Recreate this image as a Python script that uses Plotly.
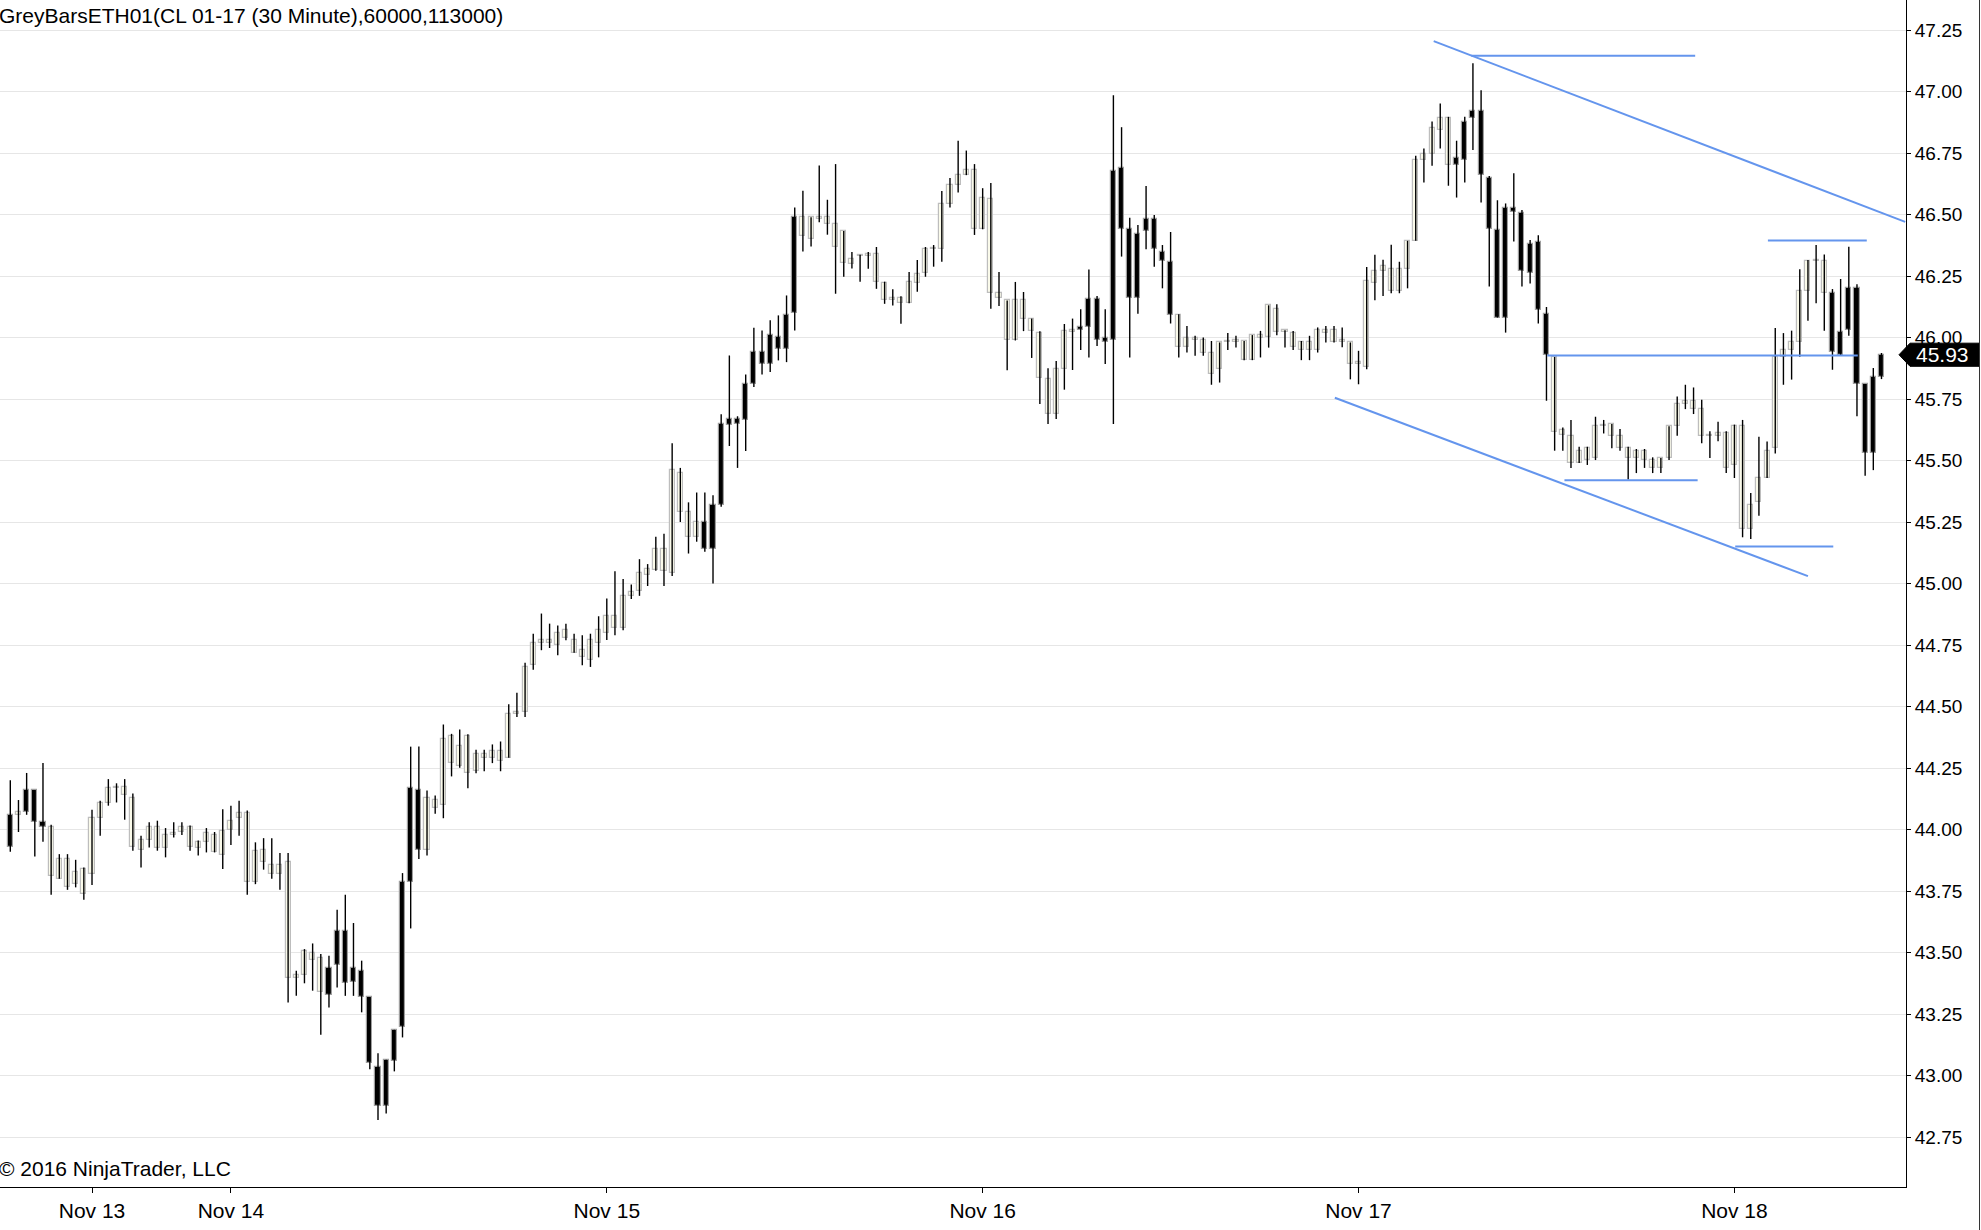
import plotly.graph_objects as go

# ---------------- data (30-minute bars, CL 01-17) ----------------
opens = [44.06, 44.06, 44.07, 44.16, 44.03, 44.01, 43.80, 43.88, 43.78, 43.84,
         43.82, 44.046, 44.108, 44.17, 44.175, 44.128, 43.917, 43.957, 44.01, 43.927,
         43.978, 43.99, 44.01, 43.927, 43.95, 43.978, 43.896, 44.0, 44.047, 44.066,
         43.785, 43.917, 43.857, 43.819, 43.867, 43.396, 43.408, 43.498, 43.476, 43.327,
         43.449, 43.586, 43.379, 43.426, 43.318, 43.036, 42.877, 43.06, 43.198, 43.788,
         44.161, 43.917, 44.12, 44.10, 44.381, 44.258, 44.381, 44.237, 44.292, 44.292,
         44.32, 44.292, 44.47, 44.478, 44.67, 44.76, 44.772, 44.752, 44.81, 44.772,
         44.731, 44.69, 44.758, 44.80, 44.87, 44.821, 44.95, 44.97, 45.034, 45.054,
         45.142, 45.041, 45.451, 45.291, 45.19, 45.25, 45.142, 45.321, 45.643, 45.667,
         45.663, 45.812, 45.941, 45.893, 46.002, 45.952, 46.10, 46.489, 46.40, 46.482,
         46.489, 46.461, 46.433, 46.30, 46.33, 46.332, 46.338, 46.22, 46.151, 46.159,
         46.139, 46.22, 46.261, 46.359, 46.36, 46.542, 46.62, 46.66, 46.68, 46.44,
         46.562, 46.179, 46.151, 45.988, 46.151, 46.077, 46.02, 45.83, 45.69, 45.871,
         46.023, 46.03, 46.043, 46.158, 45.982, 45.99, 46.69, 46.44, 46.16, 46.433,
         46.48, 46.349, 46.309, 46.091, 45.962, 46.0, 45.99, 45.939, 45.871, 45.98,
         45.983, 45.986, 45.908, 46.009, 46.003, 46.118, 46.023, 46.02, 45.98, 45.949,
         45.949, 46.03, 46.03, 45.98, 45.98, 45.892, 45.881, 46.221, 46.271, 46.28,
         46.19, 46.28, 46.393, 46.721, 46.748, 46.843, 46.892, 46.70, 46.722, 46.892,
         46.919, 46.65, 46.438, 46.081, 46.528, 46.508, 46.262, 46.39, 46.094, 45.921,
         45.603, 45.598, 45.49, 45.502, 45.51, 45.639, 45.648, 45.60, 45.55, 45.51,
         45.537, 45.502, 45.47, 45.51, 45.639, 45.73, 45.74, 45.71, 45.601, 45.601,
         45.61, 45.482, 45.639, 45.222, 45.33, 45.429, 45.549, 45.922, 45.949, 45.98,
         46.188, 46.31, 46.31, 46.18, 45.929, 46.032, 46.20, 45.811, 45.53, 45.841]

highs = [44.20, 44.12, 44.23, 44.16, 44.27, 44.02, 43.90, 43.90, 43.877, 43.846,
         44.08, 44.117, 44.205, 44.188, 44.205, 44.147, 43.975, 44.03, 44.036, 44.006,
         44.03, 44.03, 44.016, 43.955, 44.006, 43.99, 44.083, 44.097, 44.117, 44.077,
         43.948, 43.965, 43.965, 43.905, 43.905, 43.426, 43.514, 43.537, 43.494, 43.487,
         43.674, 43.735, 43.62, 43.467, 43.318, 43.091, 43.064, 43.186, 43.823, 44.337,
         44.338, 44.159, 44.138, 44.427, 44.389, 44.407, 44.387, 44.324, 44.324, 44.346,
         44.358, 44.509, 44.556, 44.678, 44.796, 44.878, 44.837, 44.829, 44.837, 44.796,
         44.79, 44.796, 44.867, 44.939, 45.05, 45.018, 44.996, 45.099, 45.079, 45.19,
         45.202, 45.57, 45.47, 45.33, 45.37, 45.37, 45.359, 45.688, 45.927, 45.68,
         45.85, 46.04, 46.029, 46.07, 46.09, 46.171, 46.529, 46.597, 46.489, 46.699,
         46.56, 46.705, 46.433, 46.348, 46.336, 46.348, 46.368, 46.227, 46.196, 46.168,
         46.266, 46.315, 46.368, 46.376, 46.596, 46.648, 46.80, 46.76, 46.705, 46.607,
         46.628, 46.266, 46.151, 46.226, 46.185, 46.077, 46.026, 45.875, 45.905, 46.055,
         46.077, 46.115, 46.277, 46.169, 46.115, 46.985, 46.855, 46.487, 46.457, 46.616,
         46.498, 46.376, 46.429, 46.095, 46.047, 46.007, 46.0, 45.986, 45.98, 46.018,
         46.007, 45.986, 46.01, 46.027, 46.131, 46.135, 46.03, 46.027, 45.986, 46.007,
         46.041, 46.047, 46.047, 46.041, 45.98, 45.946, 46.287, 46.336, 46.316, 46.377,
         46.308, 46.393, 46.739, 46.768, 46.878, 46.951, 46.897, 46.80, 46.897, 47.115,
         47.005, 46.657, 46.558, 46.545, 46.668, 46.518, 46.396, 46.416, 46.124, 45.921,
         45.634, 45.665, 45.556, 45.556, 45.678, 45.665, 45.648, 45.628, 45.556, 45.547,
         45.547, 45.513, 45.51, 45.639, 45.76, 45.808, 45.797, 45.747, 45.619, 45.658,
         45.619, 45.646, 45.665, 45.368, 45.597, 45.577, 46.039, 46.018, 46.028, 46.278,
         46.315, 46.376, 46.337, 46.197, 46.238, 46.369, 46.217, 45.811, 45.876, 45.937]

lows = [43.91, 43.99, 44.06, 43.89, 43.95, 43.735, 43.80, 43.755, 43.765, 43.715,
        43.775, 43.975, 44.097, 44.11, 44.04, 43.914, 43.846, 43.927, 43.914, 43.887,
        43.968, 43.978, 43.914, 43.894, 43.907, 43.907, 43.84, 43.937, 43.975, 43.735,
        43.778, 43.837, 43.80, 43.755, 43.297, 43.324, 43.375, 43.345, 43.166, 43.277,
        43.358, 43.324, 43.324, 43.257, 43.026, 42.819, 42.846, 43.017, 43.155, 43.598,
        43.88, 43.894, 44.064, 44.046, 44.216, 44.251, 44.168, 44.229, 44.237, 44.27,
        44.237, 44.292, 44.457, 44.457, 44.65, 44.729, 44.738, 44.708, 44.769, 44.719,
        44.668, 44.661, 44.70, 44.77, 44.79, 44.81, 44.937, 44.95, 44.99, 45.052,
        44.99, 45.031, 45.25, 45.122, 45.17, 45.129, 45.0, 45.312, 45.559, 45.47,
        45.539, 45.799, 45.85, 45.86, 45.907, 45.90, 46.029, 46.35, 46.37, 46.469,
        46.418, 46.178, 46.247, 46.281, 46.227, 46.28, 46.198, 46.137, 46.13, 46.056,
        46.139, 46.186, 46.247, 46.288, 46.308, 46.529, 46.59, 46.66, 46.417, 46.44,
        46.117, 46.128, 45.867, 45.988, 46.026, 45.917, 45.73, 45.649, 45.669, 45.788,
        45.868, 45.949, 45.919, 45.966, 45.892, 45.648, 46.329, 45.919, 46.097, 46.359,
        46.288, 46.20, 46.057, 45.919, 45.939, 45.926, 45.926, 45.808, 45.817, 45.949,
        45.959, 45.908, 45.908, 45.919, 45.959, 46.009, 45.959, 45.949, 45.908, 45.908,
        45.939, 45.98, 45.98, 45.96, 45.83, 45.81, 45.871, 46.152, 46.169, 46.18,
        46.18, 46.20, 46.393, 46.63, 46.698, 46.768, 46.617, 46.569, 46.63, 46.762,
        46.549, 46.207, 46.081, 46.02, 46.39, 46.207, 46.22, 46.057, 45.743, 45.54,
        45.54, 45.47, 45.49, 45.482, 45.502, 45.61, 45.55, 45.54, 45.423, 45.449,
        45.47, 45.449, 45.449, 45.502, 45.601, 45.709, 45.689, 45.57, 45.51, 45.578,
        45.449, 45.429, 45.188, 45.181, 45.276, 45.429, 45.529, 45.808, 45.829, 45.922,
        46.068, 46.139, 46.028, 45.869, 45.929, 46.007, 45.68, 45.438, 45.461, 45.831]

closes = [43.93, 44.07, 44.16, 44.03, 44.01, 43.81, 43.88, 43.765, 43.826, 43.74,
          44.045, 44.108, 44.167, 44.175, 44.14, 43.928, 43.957, 44.01, 43.927, 43.978,
          43.988, 44.01, 43.93, 43.948, 43.988, 43.91, 43.995, 44.036, 44.066, 43.785,
          43.914, 43.87, 43.819, 43.857, 43.396, 43.408, 43.505, 43.47, 43.34, 43.436,
          43.586, 43.375, 43.436, 43.32, 43.05, 42.877, 43.064, 43.186, 43.785, 44.167,
          43.917, 44.129, 44.088, 44.369, 44.271, 44.34, 44.231, 44.308, 44.308, 44.32,
          44.278, 44.471, 44.478, 44.661, 44.758, 44.772, 44.76, 44.80, 44.78, 44.719,
          44.70, 44.772, 44.813, 44.87, 44.821, 44.951, 44.964, 45.041, 45.061, 45.142,
          45.052, 45.463, 45.291, 45.19, 45.25, 45.142, 45.321, 45.65, 45.667, 45.65,
          45.812, 45.941, 45.893, 46.011, 45.952, 46.092, 46.489, 46.414, 46.489, 46.489,
          46.462, 46.37, 46.302, 46.318, 46.332, 46.338, 46.227, 46.151, 46.159, 46.139,
          46.227, 46.26, 46.359, 46.36, 46.542, 46.62, 46.66, 46.68, 46.44, 46.569,
          46.179, 46.159, 45.988, 46.151, 46.077, 46.028, 45.837, 45.69, 45.871, 46.028,
          46.03, 46.041, 46.158, 45.99, 46.0, 46.677, 46.44, 46.16, 46.42, 46.48,
          46.359, 46.311, 46.092, 45.962, 46.0, 45.99, 45.939, 45.851, 45.98, 45.98,
          45.99, 45.908, 46.009, 46.0, 46.131, 46.023, 46.03, 45.962, 45.949, 45.98,
          46.03, 46.02, 45.98, 45.99, 45.892, 45.901, 46.23, 46.271, 46.289, 46.19,
          46.28, 46.393, 46.721, 46.748, 46.851, 46.892, 46.70, 46.729, 46.878, 46.919,
          46.661, 46.44, 46.081, 46.528, 46.511, 46.271, 46.379, 46.112, 45.928, 45.614,
          45.623, 45.49, 45.537, 45.549, 45.639, 45.639, 45.60, 45.55, 45.51, 45.537,
          45.502, 45.47, 45.51, 45.639, 45.73, 45.74, 45.71, 45.601, 45.601, 45.61,
          45.47, 45.639, 45.222, 45.319, 45.429, 45.54, 45.922, 45.949, 45.98, 46.188,
          46.31, 46.31, 46.18, 45.942, 46.021, 46.20, 45.811, 45.53, 45.838, 45.93]

# bar colouring from the GreyBars indicator: "g" = grey (ETH) bar, "k" = black bar
bar_class = list(
    "kgkkkggggg" "gggggggggg" "gggggggggg" "gggggggggk" "kkkkkkkkkk"
    "kggggggggg" "gggggggggg" "gggggggggg" "gggggkkkkk" "kkkkkkkggg"
    "gggggggggg" "gggggggggg" "gggggggggg" "gkkkkkkkkk" "kkkggggggg"
    "gggggggggg" "gggggggggg" "gggggggkkk" "kkkkkkkkkg" "gggggggggg"
    "gggggggggg" "gggggggggg" "gggkkkkkkk"
)

date_tick_bars = [10, 27, 73, 119, 165, 211]
date_tick_labels = ["Nov 13", "Nov 14", "Nov 15", "Nov 16", "Nov 17", "Nov 18"]

# drawn trend / level lines (bar index, price)
line_x0 = [174.2, 178.8, 162.1, 188.1, 190.2, 211.1, 215.1]
line_y0 = [47.205, 47.145, 45.755, 45.927, 45.42, 45.151, 46.394]
line_x1 = [231.9, 206.2, 220.0, 226.1, 206.5, 223.1, 227.2]
line_y1 = [46.47, 47.145, 45.03, 45.927, 45.42, 45.151, 46.394]

title_text = "GreyBarsETH01(CL 01-17 (30 Minute),60000,113000)"
copyright_text = "\u00a9 2016 NinjaTrader, LLC"

# ---------------- figure ----------------
FONT = "Liberation Sans, Arial, sans-serif"
n = len(closes)
xs = list(range(n))

# wicks
wx, wy = [], []
for i in range(n):
    wx += [xs[i], xs[i], None]
    wy += [lows[i], highs[i], None]

fig = go.Figure()
fig.add_trace(go.Scatter(x=wx, y=wy, mode="lines",
                         line=dict(color="#000000", width=1.4),
                         hoverinfo="skip", showlegend=False))

# bodies
base = [min(o, c) for o, c in zip(opens, closes)]
height = [max(abs(c - o), 0.004) for o, c in zip(opens, closes)]
fill = ["#FAFAEA" if b == "g" else "#000000" for b in bar_class]
edge = ["#BDBDBD" if b == "g" else "#9E9E9E" for b in bar_class]
fig.add_trace(go.Bar(x=xs, y=height, base=base, width=0.62,
                     marker=dict(color=fill, line=dict(color=edge, width=1.2)),
                     hoverinfo="skip", showlegend=False))

# drawn lines
for x0, y0, x1, y1 in zip(line_x0, line_y0, line_x1, line_y1):
    fig.add_trace(go.Scatter(x=[x0, x1], y=[y0, y1], mode="lines",
                             line=dict(color="#6495ED", width=2),
                             hoverinfo="skip", showlegend=False))

W, H = 1981, 1230
ML, MR, MT, MB = 0, 75, 0, 43
plot_w = W - ML - MR
plot_h = H - MT - MB

fig.update_layout(
    width=W, height=H,
    margin=dict(l=ML, r=MR, t=MT, b=MB),
    paper_bgcolor="white", plot_bgcolor="white",
    barmode="overlay", bargap=0,
    font=dict(family=FONT, color="#000000"),
    xaxis=dict(range=[-1.26, 232.0], tickmode="array",
               tickvals=date_tick_bars, ticktext=date_tick_labels,
               ticks="outside", ticklen=5, tickcolor="#000000",
               showline=True, linecolor="#000000", linewidth=1,
               showgrid=False, zeroline=False,
               tickfont=dict(size=21, family=FONT, color="#000000")),
    yaxis=dict(side="right", range=[42.547, 47.372],
               tick0=42.75, dtick=0.25, tickformat=".2f",
               ticks="outside", ticklen=4, tickcolor="#000000",
               showline=True, linecolor="#000000", linewidth=1,
               showgrid=True, gridcolor="#E6E6E6", gridwidth=1,
               zeroline=False,
               tickfont=dict(size=19, family=FONT, color="#000000")),
)

# last price marker
last = closes[-1]
half = 0.047
px = lambda p: p / plot_w  # pixel offset -> paper fraction
fig.add_shape(type="path", xref="paper", yref="y", layer="above",
              path=(f"M {1 + px(-7)},{last} L {1 + px(4)},{last + half} "
                    f"L {1 + px(73)},{last + half} L {1 + px(73)},{last - half} "
                    f"L {1 + px(4)},{last - half} Z"),
              fillcolor="#000000", line=dict(color="#000000", width=1))
fig.add_annotation(x=1 + px(36), y=last, xref="paper", yref="y",
                   text=f"{last:.2f}", showarrow=False, xanchor="center",
                   yanchor="middle",
                   font=dict(size=21, family=FONT, color="#FFFFFF"))

# outer frame on right edge
fig.add_shape(type="line", xref="paper", yref="paper",
              x0=1 + px(73.5), x1=1 + px(73.5), y0=-MB / plot_h, y1=1,
              line=dict(color="#333333", width=1))

# texts
fig.add_annotation(x=0, y=1, xref="paper", yref="paper", text=title_text,
                   showarrow=False, xanchor="left", yanchor="middle",
                   xshift=-3, yshift=-15,
                   font=dict(size=21, family=FONT, color="#000000"))
fig.add_annotation(x=0, y=0, xref="paper", yref="paper", text=copyright_text,
                   showarrow=False, xanchor="left", yanchor="middle",
                   xshift=-3, yshift=19,
                   font=dict(size=21, family=FONT, color="#000000"))

fig.write_html(
    "out.html",
    config={"displayModeBar": False},
    post_script="document.body.style.margin='0';document.body.style.overflow='hidden';",
)
